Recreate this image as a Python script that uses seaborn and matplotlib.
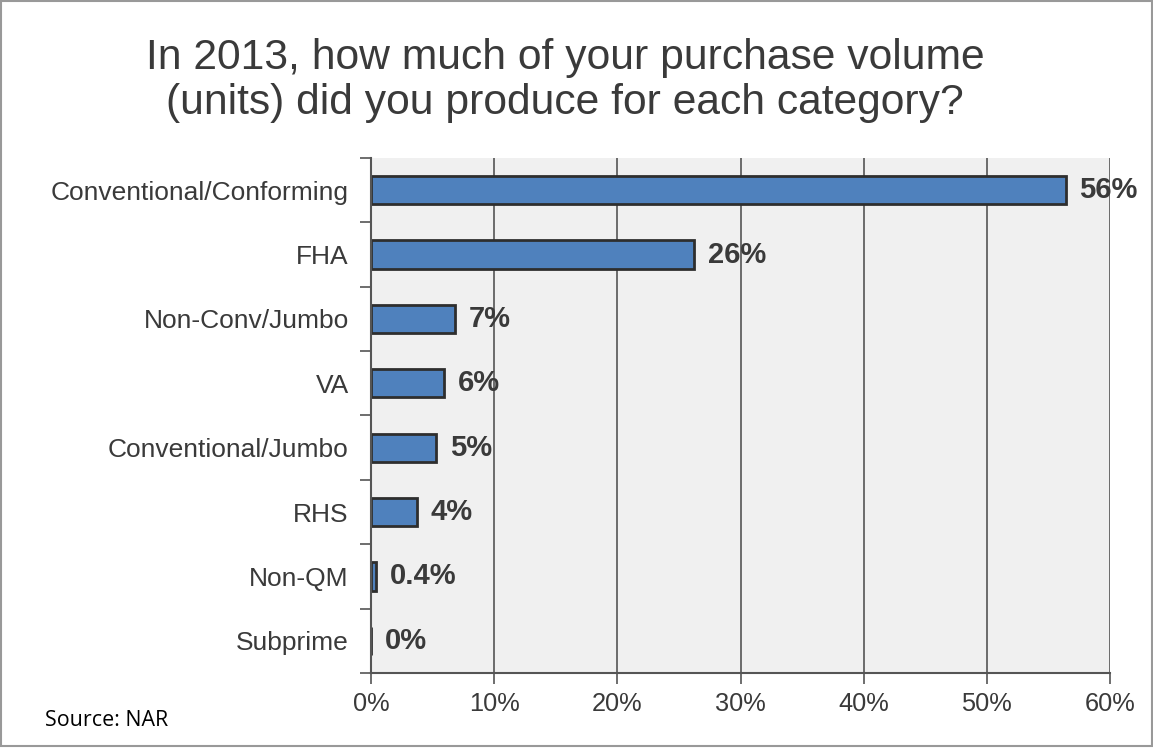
import matplotlib
matplotlib.use("Agg")
import matplotlib.pyplot as plt
import seaborn as sns
import pandas as pd
import numpy as np

categories = ["Conventional/Conforming", "FHA", "Non-Conv/Jumbo", "VA",
              "Conventional/Jumbo", "RHS", "Non-QM", "Subprime"]
values = [56.4, 26.2, 6.8, 5.9, 5.3, 3.7, 0.4, 0.0]
value_labels = ["56%", "26%", "7%", "6%", "5%", "4%", "0.4%", "0%"]
x_ticks = [0, 10, 20, 30, 40, 50, 60]
x_tick_labels = ["0%", "10%", "20%", "30%", "40%", "50%", "60%"]

sns.set_theme(style="white")
plt.rcParams['font.family'] = ['Liberation Sans', 'DejaVu Sans']

text_col = "#3a3a3a"
df = pd.DataFrame({"category": categories, "value": values})

fig = plt.figure(figsize=(11.53, 7.48), dpi=100)
ax = fig.add_axes([0.3218, 0.1003, 0.9627 - 0.3218, 0.7888 - 0.1003])
ax.set_facecolor("#f0f0f0")

sns.barplot(data=df, x="value", y="category", orient="h", color="#4f81bd",
            edgecolor="#2e2e2e", linewidth=2, width=0.44, saturation=1, ax=ax)

ax.set_xlim(0, 60)
ax.set_ylim(len(categories) - 0.5, -0.5)
ax.set_xticks(x_ticks)
ax.set_xticklabels(x_tick_labels, fontsize=18.3, color=text_col)
ax.set_yticks(range(len(categories)))
ax.set_yticklabels(categories, fontsize=19, color=text_col)
ax.tick_params(axis="y", which="major", length=0, pad=16)
ax.set_yticks(np.arange(-0.5, len(categories), 1), minor=True)
ax.tick_params(axis="y", which="minor", length=8, width=1.2, color="#555555", left=True)
ax.tick_params(axis="x", which="major", length=8, width=1.2, color="#555555", bottom=True, pad=6)
ax.grid(axis="x", color="#555555", linewidth=1.2)
ax.set_axisbelow(True)
for s in ["top", "right"]:
    ax.spines[s].set_visible(False)
for s in ["left", "bottom"]:
    ax.spines[s].set_color("#555555")
    ax.spines[s].set_linewidth(1.5)
ax.set_xlabel("")
ax.set_ylabel("")

for i, (v, lab) in enumerate(zip(values, value_labels)):
    ax.annotate(lab, xy=(v, i), xytext=(10, 0), textcoords="offset points",
                ha="left", va="center", fontsize=21, fontweight="bold", color=text_col)

fig.text(0.49, 0.892, "In 2013, how much of your purchase volume\n(units) did you produce for each category?",
         ha="center", va="center", fontsize=30.7, color=text_col, linespacing=1.17)
fig.text(0.039, 0.037, "Source: NAR", ha="left", va="center", fontsize=15.4,
         color="black", family=["Open Sans", "DejaVu Sans"])

border = plt.Rectangle((0.001, 0.003), 0.998, 0.995, transform=fig.transFigure,
                       fill=False, edgecolor="#999999", linewidth=1.5)
fig.patches.append(border)

fig.savefig("out.png", dpi=100)
